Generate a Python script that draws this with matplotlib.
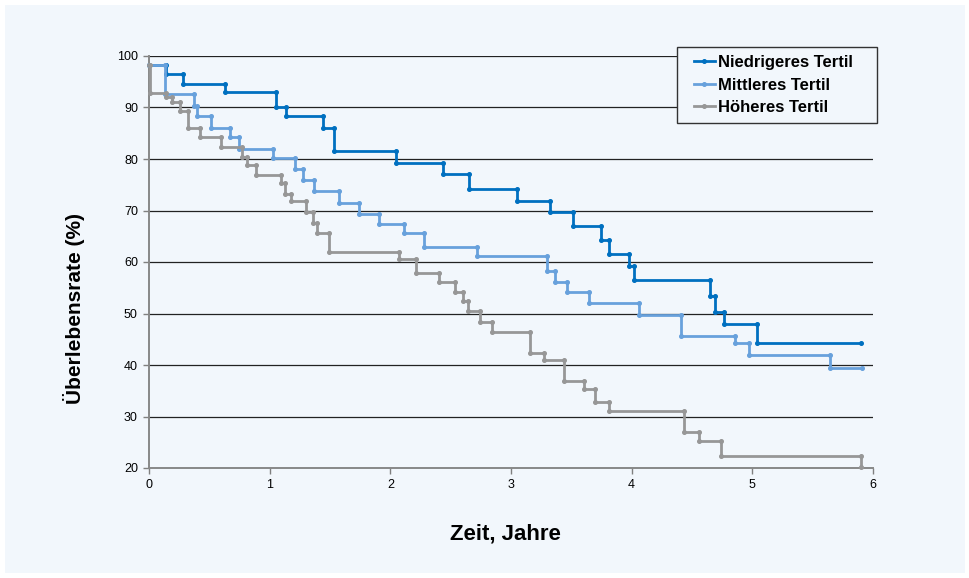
import matplotlib
matplotlib.use("Agg")
import matplotlib.pyplot as plt
from matplotlib.patches import Rectangle

plt.rcParams['font.family'] = ['Liberation Sans', 'DejaVu Sans']

# Kaplan-Meier Stufen: Ereigniszeiten (Jahre) und Überlebensrate (%) danach
start_rate = 98.2

niedrig_t = [0.14, 0.28, 0.63, 1.05, 1.135, 1.44, 1.53, 2.05, 2.44, 2.65, 3.05,
             3.32, 3.51, 3.75, 3.81, 3.975, 4.02, 4.65, 4.69, 4.765, 5.04]
niedrig_s = [96.6, 94.6, 93.0, 90.1, 88.4, 86.0, 81.5, 79.3, 77.0, 74.2, 71.9,
             69.8, 66.9, 64.3, 61.5, 59.2, 56.5, 53.4, 50.2, 48.0, 44.3]
niedrig_end = 5.9

mittel_t = [0.13, 0.375, 0.40, 0.51, 0.67, 0.745, 1.03, 1.21, 1.28, 1.37, 1.575,
            1.74, 1.91, 2.11, 2.28, 2.72, 3.295, 3.365, 3.46, 3.65, 4.06, 4.41,
            4.855, 4.97, 5.645]
mittel_s = [92.6, 90.2, 88.35, 86.1, 84.3, 81.9, 80.1, 78.05, 75.9, 73.85, 71.5,
            69.3, 67.4, 65.7, 63.0, 61.2, 58.3, 56.2, 54.2, 52.1, 49.7, 45.6,
            44.3, 41.9, 39.5]
mittel_end = 5.905

hoch_t = [0.005, 0.14, 0.19, 0.255, 0.325, 0.42, 0.60, 0.77, 0.815, 0.885, 1.09,
          1.13, 1.18, 1.305, 1.355, 1.39, 1.49, 2.075, 2.21, 2.40, 2.54, 2.605,
          2.645, 2.745, 2.84, 3.155, 3.27, 3.44, 3.605, 3.70, 3.81, 4.435, 4.56,
          4.74, 5.90]
hoch_s = [92.8, 92.0, 91.1, 89.3, 86.0, 84.3, 82.4, 80.45, 78.8, 76.9, 75.3,
          73.3, 71.9, 69.8, 67.5, 65.7, 62.0, 60.5, 57.9, 56.05, 54.1, 52.4,
          50.5, 48.4, 46.5, 42.3, 41.0, 36.9, 35.3, 32.9, 31.1, 27.0, 25.3,
          22.3, 20.1]
hoch_end = 5.90

labels = ['Niedrigeres Tertil', 'Mittleres Tertil', 'Höheres Tertil']
colors = ['#0070c0', '#68a1dc', '#979797']

panel = '#f2f7fc'


def step_xy(times, rates, end):
    # Ecken der Treppe: vor und nach jedem Sprung ein Punkt
    xs, ys = [0.0], [start_rate]
    prev = start_rate
    for t, s in zip(times, rates):
        xs += [t, t]
        ys += [prev, s]
        prev = s
    if end > xs[-1]:
        xs.append(end)
        ys.append(prev)
    return xs, ys


fig = plt.figure(figsize=(9.7, 5.78), dpi=100, facecolor='white')
fig.patches.append(Rectangle((5 / 970, 5 / 578), 960 / 970, 568 / 578,
                             transform=fig.transFigure, facecolor=panel,
                             edgecolor='none', zorder=-10))
ax = fig.add_axes([149 / 970, 1 - 468 / 578, 724 / 970, 412 / 578])
ax.set_facecolor(panel)

series = [(niedrig_t, niedrig_s, niedrig_end),
          (mittel_t, mittel_s, mittel_end),
          (hoch_t, hoch_s, hoch_end)]
for (t, s, end), lab, col in zip(series, labels, colors):
    xs, ys = step_xy(t, s, end)
    ax.plot(xs, ys, color=col, lw=2.0, marker='o', ms=2.6, mec=col, mfc=col,
            label=lab, solid_joinstyle='miter', clip_on=False, zorder=3)

ax.set_xlim(0, 6)
ax.set_ylim(20, 100)
ax.set_xticks(range(0, 7))
ax.set_yticks(range(20, 101, 10))
ax.tick_params(axis='both', labelsize=9, direction='out', length=4,
               width=1, color='#808080', pad=4)

for y in range(30, 101, 10):
    ax.axhline(y, color='#222222', lw=0.9, zorder=1)

for side in ['top', 'right']:
    ax.spines[side].set_visible(False)
for side in ['left', 'bottom']:
    ax.spines[side].set_color('#888888')
    ax.spines[side].set_linewidth(1.4)

fig.text(74 / 970, 1 - 309 / 578, 'Überlebensrate (%)', rotation=90,
         fontsize=15, fontweight='bold', ha='center', va='center')
fig.text(505 / 970, 1 - 534 / 578, 'Zeit, Jahre', fontsize=16,
         fontweight='bold', ha='center', va='center')

# Legendenrahmen separat, damit die Innenabstände frei wählbar sind
ax.add_patch(Rectangle((677 / 970, 1 - 123 / 578), 200 / 970, 76 / 578,
                       transform=fig.transFigure, facecolor=panel,
                       edgecolor='#333333', lw=1.0, clip_on=False, zorder=4))
leg = ax.legend(loc='upper left', bbox_to_anchor=(694 / 970, 1 - 55 / 578),
                bbox_transform=fig.transFigure, frameon=False,
                prop={'size': 12, 'weight': 'bold'}, handlelength=1.25,
                handletextpad=0.2, labelspacing=0.45, borderpad=0,
                borderaxespad=0)
leg.set_zorder(5)

fig.savefig('out.png', dpi=100, facecolor='white')
